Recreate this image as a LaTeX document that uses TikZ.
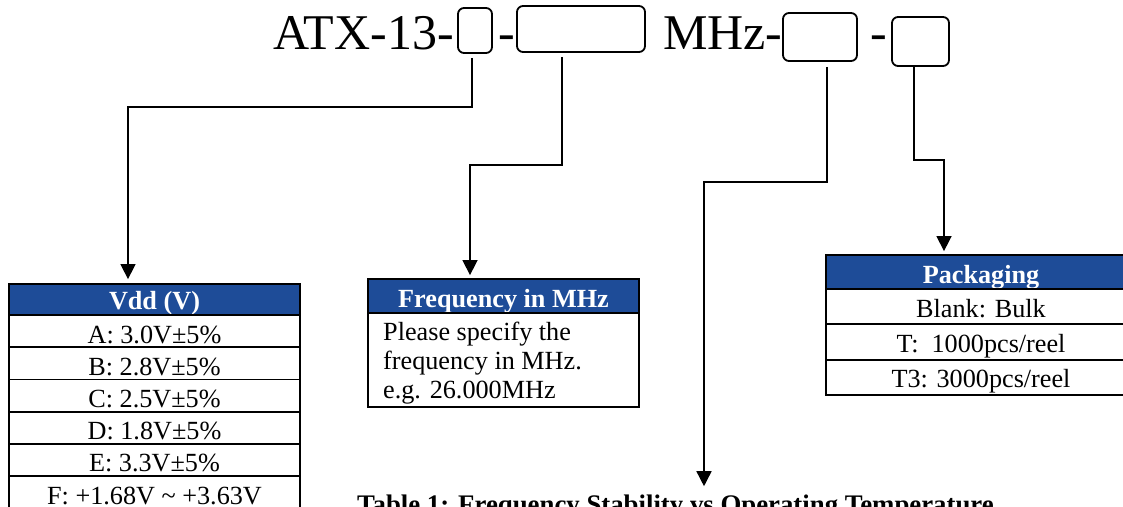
\documentclass[tikz,border=0pt]{standalone}
\usepackage{fontspec}
\setmainfont{Liberation Serif}
\usetikzlibrary{arrows.meta}
\definecolor{hdrblue}{RGB}{30,76,152}
\begin{document}
\begin{tikzpicture}[x=1pt,y=-1pt,
  tbox/.style={draw, line width=1.8pt, rounded corners=6pt, inner sep=0pt},
  titletext/.style={font=\fontsize{50}{52}\selectfont, inner sep=0pt, anchor=base west},
  hdr/.style={draw, line width=1.8pt, fill=hdrblue, inner sep=0pt},
  cell/.style={draw, line width=1.8pt, inner sep=0pt},
  hdrtxt/.style={font=\fontsize{26.2}{28}\selectfont\bfseries, text=white, inner sep=0pt, anchor=base},
  celltxt/.style={font=\fontsize{26.2}{28}\selectfont, inner sep=0pt, anchor=base},
  conn/.style={line width=1.5pt, -{Triangle[width=15pt,length=15pt]}}
]
\clip (0,0) rectangle (1123,506);
\useasboundingbox (0,0) rectangle (1123,506);

% title
\node[titletext] (t1) at (273,49) {ATX-13-};
\node[tbox, minimum width=34pt, minimum height=45pt] (b1) at (475,30.5) {};
\node[titletext] (t2) at (498.5,49) {-};
\node[tbox, minimum width=128pt, minimum height=46pt] (b2) at (581,29) {};
\node[titletext] (t3) at (663,49) {MHz-};
\node[tbox, minimum width=74pt, minimum height=48pt] (b3) at (820,37) {};
\node[titletext] (t4) at (870.5,49) {-};
\node[tbox, minimum width=57pt, minimum height=49pt] (b4) at (920.5,41.5) {};

% Vdd table
\node[hdr, minimum width=291pt, minimum height=31pt] (vh) at (154.5,299.5) {};
\node[hdrtxt] (vht) at ([yshift=6pt]vh.south) {Vdd (V)};
\node[cell, minimum width=291pt, minimum height=32.2pt] (v1) at (154.5,331.1) {};
\node[celltxt] (v1t) at ([yshift=5pt]v1.south) {A: 3.0V±5\%};
\node[cell, minimum width=291pt, minimum height=32.2pt] (v2) at (154.5,363.3) {};
\node[celltxt] (v2t) at ([yshift=5pt]v2.south) {B: 2.8V±5\%};
\node[cell, minimum width=291pt, minimum height=32.2pt] (v3) at (154.5,395.5) {};
\node[celltxt] (v3t) at ([yshift=5pt]v3.south) {C: 2.5V±5\%};
\node[cell, minimum width=291pt, minimum height=32.2pt] (v4) at (154.5,427.7) {};
\node[celltxt] (v4t) at ([yshift=5pt]v4.south) {D: 1.8V±5\%};
\node[cell, minimum width=291pt, minimum height=32.2pt] (v5) at (154.5,459.9) {};
\node[celltxt] (v5t) at ([yshift=5pt]v5.south) {E: 3.3V±5\%};
\node[cell, minimum width=291pt, minimum height=32.2pt] (v6) at (154.5,492.1) {};
\node[celltxt] (v6t) at ([yshift=5pt]v6.south) {F: +1.68V \textasciitilde{} +3.63V};

% Frequency table
\node[hdr, minimum width=271pt, minimum height=34pt] (fh) at (503.5,296) {};
\node[hdrtxt] (fht) at ([yshift=6pt]fh.south) {Frequency in MHz};
\node[cell, minimum width=271pt, minimum height=94pt] (fb) at (503.5,360) {};
\node[celltxt, anchor=base west] (f1) at (383,340) {Please specify the};
\node[celltxt, anchor=base west] (f2) at (383,369) {frequency in MHz.};
\node[celltxt, anchor=base west] (f3) at (383,398) {e.g. 26.000MHz};

% Packaging table
\node[hdr, minimum width=310pt, minimum height=34pt] (ph) at (981,272) {};
\node[hdrtxt] (pht) at ([yshift=6pt]ph.south) {Packaging};
\node[cell, minimum width=310pt, minimum height=35pt] (p1) at (981,306.5) {};
\node[celltxt] (p1t) at ([yshift=7pt]p1.south) {Blank: Bulk};
\node[cell, minimum width=310pt, minimum height=36pt] (p2) at (981,342) {};
\node[celltxt] (p2t) at ([yshift=8pt]p2.south) {T:\ \ 1000pcs/reel};
\node[cell, minimum width=310pt, minimum height=35pt] (p3) at (981,377.5) {};
\node[celltxt] (p3t) at ([yshift=8pt]p3.south) {T3: 3000pcs/reel};

% bottom caption
\node[font=\fontsize{26.8}{28}\selectfont\bfseries, inner sep=0pt, anchor=base west] (tbl) at (357,513) {Table 1: Frequency Stability vs Operating Temperature};

% connectors
\coordinate (c1a) at (472,107);
\coordinate (c1b) at (128,107);
\draw[conn, shorten <=4pt, shorten >=4pt] (b1.south -| c1a) -- (c1a) -- (c1b) -- (c1b |- vh.north);
\coordinate (c2a) at (562,165);
\coordinate (c2b) at (470,165);
\draw[conn, shorten <=4pt, shorten >=3pt] (b2.south -| c2a) -- (c2a) -- (c2b) -- (c2b |- fh.north);
\coordinate (c3a) at (827,182);
\coordinate (c3b) at (704,182);
\draw[conn, shorten <=5pt, shorten >=8pt] (b3.south -| c3a) -- (c3a) -- (c3b) -- (c3b |- tbl.north);
\coordinate (c4a) at (914,160);
\coordinate (c4b) at (944,160);
\draw[conn, shorten >=3pt] (b4.south -| c4a) -- (c4a) -- (c4b) -- (c4b |- ph.north);
\end{tikzpicture}
\end{document}
